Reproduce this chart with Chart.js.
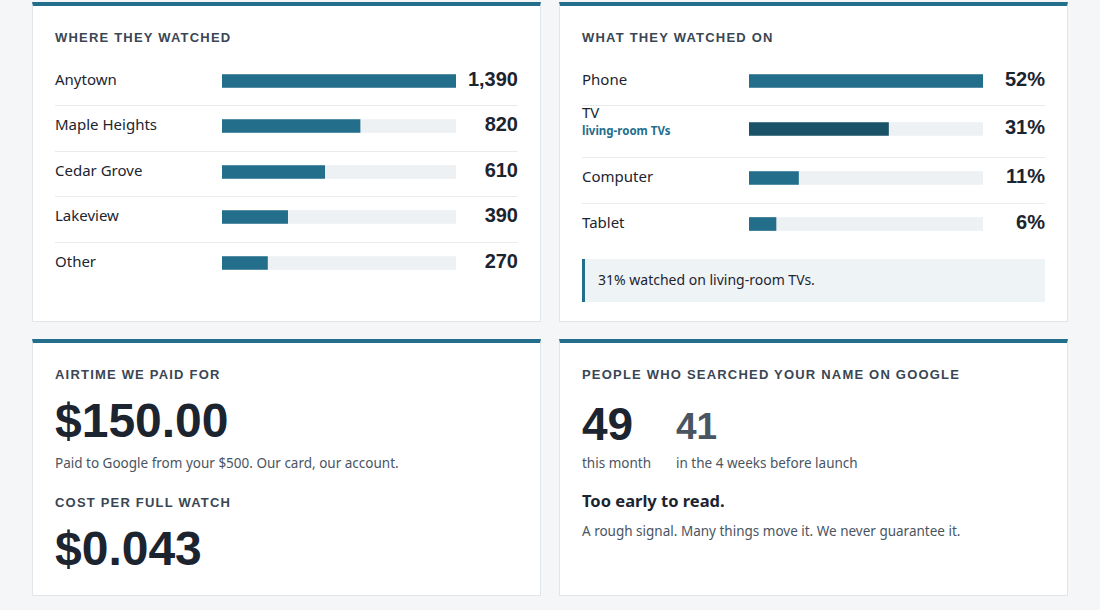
<!DOCTYPE html>
<html><head><meta charset="utf-8">
<script src="https://cdn.jsdelivr.net/npm/chart.js@4"></script>
<style>
body{margin:0;background:#f4f6f8;font-family:"Noto Sans",sans-serif;color:#1c2430;width:1100px;height:610px;overflow:hidden;position:relative}
.card{position:absolute;background:#fff;border:1px solid #e1e6ea;border-top:4px solid #226e8b;box-sizing:border-box}
.h{position:absolute;left:22px;top:24px;font-family:"Liberation Sans Narrow",sans-serif;font-weight:bold;font-size:13px;letter-spacing:1.2px;color:#3a4654}
.row{position:absolute;left:22px;right:22px;border-bottom:1px solid #e8ecef}
.row .l{position:absolute;left:0;font-size:15px;color:#1c2430}
.row .s{position:absolute;left:0;font-size:11.5px;font-weight:bold;color:#226e8b}
.row .v{position:absolute;right:0;font-family:"Liberation Sans Narrow",sans-serif;font-weight:bold;font-size:20px;color:#1c2430}
.row .c{position:absolute;left:167px;width:234px;height:20px}
.big{position:absolute;left:22px;font-family:"Liberation Sans Narrow",sans-serif;font-weight:bold;color:#1c2430}
.t{position:absolute;left:22px;font-size:13.5px;color:#4a5562}
</style></head><body>
<div class="card" style="left:32px;top:2px;width:509px;height:320px"><div class="h">WHERE THEY WATCHED</div><div id="p1"></div></div>
<div class="card" style="left:559px;top:2px;width:509px;height:320px"><div class="h">WHAT THEY WATCHED ON</div><div id="p2"></div>
<div style="position:absolute;left:22px;top:253px;width:463px;height:43px;background:#eef3f6;border-left:3px solid #226e8b;box-sizing:border-box;padding:11px 13px;font-size:14px;color:#1c2430">31% watched on living-room TVs.</div></div>
<div class="card" style="left:32px;top:339px;width:509px;height:257px"><div class="h">AIRTIME WE PAID FOR</div>
<div class="big" style="top:50px;font-size:48px">$150.00</div>
<div class="t" style="top:111px">Paid to Google from your $500. Our card, our account.</div>
<div class="h" style="top:152px">COST PER FULL WATCH</div>
<div class="big" style="top:178px;font-size:48px">$0.043</div></div>
<div class="card" style="left:559px;top:339px;width:509px;height:257px"><div class="h">PEOPLE WHO SEARCHED YOUR NAME ON GOOGLE</div>
<div class="big" style="top:54px;font-size:46px">49</div>
<div class="big" style="left:116px;top:63px;font-size:37px;color:#4a5562">41</div>
<div class="t" style="top:111px">this month</div>
<div class="t" style="left:116px;top:111px">in the 4 weeks before launch</div>
<div style="position:absolute;left:22px;top:146px;font-size:16.5px;font-weight:bold">Too early to read.</div>
<div class="t" style="top:179px;font-size:13.5px">A rough signal. Many things move it. We never guarantee it.</div></div>
<script>
const places=["Anytown","Maple Heights","Cedar Grove","Lakeview","Other"];
const placeViews=[1390,820,610,390,270];
const placeLabels=["1,390","820","610","390","270"];
const devices=["Phone","TV","Computer","Tablet"];
const deviceShare=[52,31,11,6];
const deviceLabels=["52%","31%","11%","6%"];
const deviceSub=["","living-room TVs","",""];
function build(id,names,vals,labs,subs,max,tops,heights,colors){
  const p=document.getElementById(id);
  names.forEach((n,i)=>{
    const r=document.createElement('div');r.className='row';
    r.style.top=tops[i]+'px';r.style.height=heights[i]+'px';
    if(i==names.length-1)r.style.borderBottom='none';
    const sub=subs&&subs[i];
    const mid=sub?8:heights[i]/2-3;
    r.innerHTML=`<div class="l" style="top:${mid-11}px">${n}</div>`+(sub?`<div class="s" style="top:${mid+10}px">${subs[i]}</div>`:'')+
      `<div class="v" style="top:${heights[i]/2-15}px">${labs[i]}</div><div class="c" style="top:${heights[i]/2-12}px"><canvas></canvas></div>`;
    p.appendChild(r);
    new Chart(r.querySelector('canvas'),{type:'bar',data:{labels:[n],datasets:[
      {data:[vals[i]],backgroundColor:colors[i],barThickness:13,grouped:false,order:0},
      {data:[max],backgroundColor:'#edf1f4',barThickness:13,grouped:false,order:1}]},
      options:{indexAxis:'y',responsive:true,maintainAspectRatio:false,animation:false,
        plugins:{legend:{display:false},tooltip:{enabled:false}},
        layout:{padding:0},
        scales:{x:{display:false,min:0,max:max},y:{display:false}}}});
  });
}
build('p1',places,placeViews,placeLabels,null,1390,[54,99,145,190,236],[45,46,45,46,45],places.map(()=>'#226e8b'));
build('p2',devices,deviceShare,deviceLabels,deviceSub,52,[54,99,151,197],[45,52,46,45],['#226e8b','#1a5368','#226e8b','#226e8b']);
</script></body></html>
